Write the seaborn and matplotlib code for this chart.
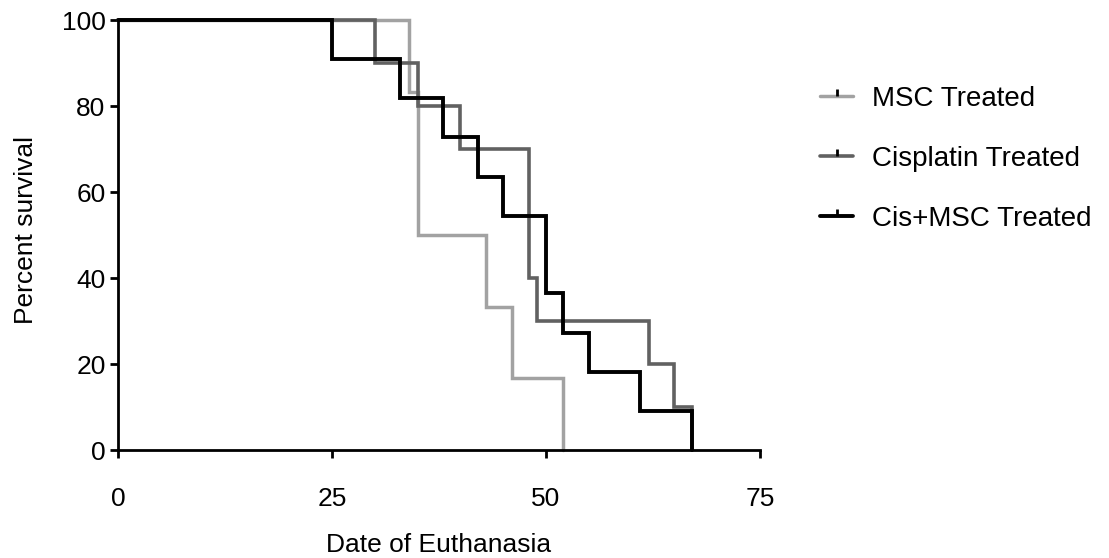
import matplotlib
matplotlib.use("Agg")
import matplotlib.pyplot as plt
from matplotlib.lines import Line2D
import seaborn as sns
import pandas as pd

# Data (Kaplan-Meier steps: time, percent survival)
msc_time = [0, 34, 35, 43, 46, 52]
msc_surv = [100, 83.3, 50, 33.3, 16.7, 0]
cis_time = [0, 30, 35, 40, 48, 49, 62, 65, 67]
cis_surv = [100, 90, 80, 70, 40, 30, 20, 10, 0]
cismsc_time = [0, 25, 33, 38, 42, 45, 50, 52, 55, 61, 67]
cismsc_surv = [100, 90.9, 81.8, 72.7, 63.6, 54.5, 36.4, 27.3, 18.2, 9.1, 0]
groups = ["MSC Treated", "Cisplatin Treated", "Cis+MSC Treated"]
x_ticks = [0, 25, 50, 75]
y_ticks = [0, 20, 40, 60, 80, 100]

df = pd.concat([
    pd.DataFrame({"t": msc_time, "s": msc_surv, "g": groups[0]}),
    pd.DataFrame({"t": cis_time, "s": cis_surv, "g": groups[1]}),
    pd.DataFrame({"t": cismsc_time, "s": cismsc_surv, "g": groups[2]}),
])

sns.set_style("ticks")
plt.rcParams["font.family"] = ["Liberation Sans", "DejaVu Sans"]
plt.rcParams["text.color"] = "black"

colors = {groups[0]: "#a2a2a2", groups[1]: "#616161", groups[2]: "#000000"}
widths = {groups[0]: 2.5, groups[1]: 2.6, groups[2]: 2.8}
FS = 19

fig = plt.figure(figsize=(11.09, 5.58), dpi=100)
ax = fig.add_axes([118 / 1109, 1 - 450 / 558, (760 - 118) / 1109, (450 - 20) / 558])

for g in groups:
    sub = df[df["g"] == g]
    sns.lineplot(data=sub, x="t", y="s", ax=ax, color=colors[g], estimator=None,
                 sort=True, drawstyle="steps-post", linewidth=widths[g], legend=False,
                 clip_on=False, solid_joinstyle="miter")

ax.set_xlim(0, 75)
ax.set_ylim(0, 100)
ax.set_xticks(x_ticks)
ax.set_yticks(y_ticks)
ax.tick_params(axis="both", labelsize=FS, length=6, width=2, color="black",
               labelcolor="black")
ax.tick_params(axis="x", pad=20.5)
ax.tick_params(axis="y", pad=3)
for sp in ["top", "right"]:
    ax.spines[sp].set_visible(False)
for sp in ["left", "bottom"]:
    ax.spines[sp].set_linewidth(2)
    ax.spines[sp].set_color("black")
ax.set_xlabel("Date of Euthanasia", fontsize=FS, color="black")
ax.set_ylabel("Percent survival", fontsize=FS, color="black")
ax.xaxis.set_label_coords(0.5, (450 - 533) / 430)
ax.yaxis.set_label_coords((38.5 - 118) / 642, (450 - 230) / 430)

handles = [Line2D([0], [0], color=colors[g], lw=widths[g], marker=2, markersize=5,
                  markeredgecolor="black", markeredgewidth=2) for g in groups]
fig.legend(handles, groups, loc="center left", bbox_to_anchor=(795 / 1109, 1 - 159 / 558),
           frameon=False, fontsize=20, labelspacing=1.22, handlelength=1.19,
           handletextpad=0.68, labelcolor="black")

fig.savefig("out.png", dpi=100)
